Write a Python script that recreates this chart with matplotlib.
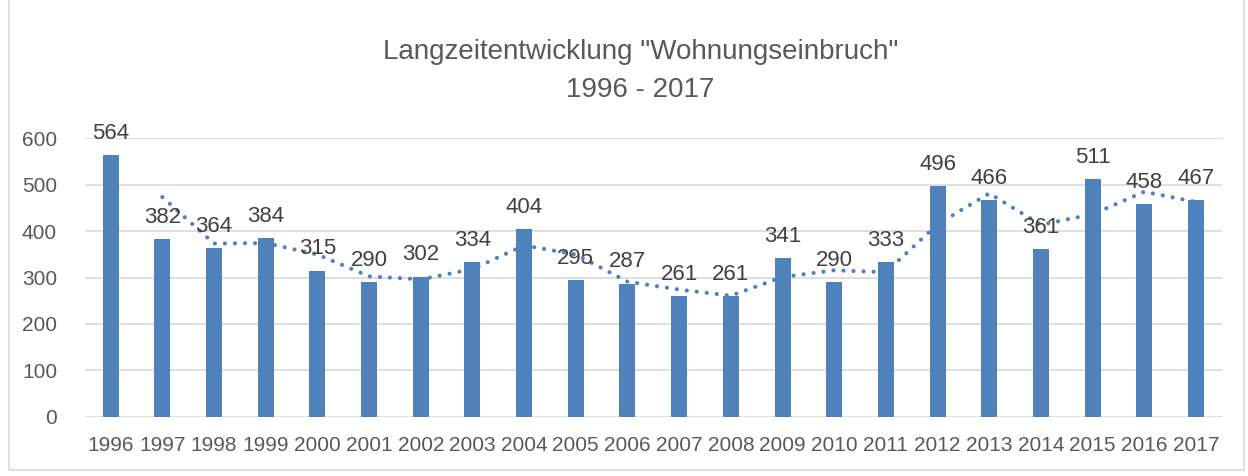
import matplotlib
matplotlib.use("Agg")
import matplotlib.pyplot as plt
import numpy as np

plt.rcParams['font.family'] = ['Liberation Sans', 'DejaVu Sans']

jahre = [str(j) for j in range(1996, 2018)]
faelle = [564, 382, 364, 384, 315, 290, 302, 334, 404, 295, 287,
          261, 261, 341, 290, 333, 496, 466, 361, 511, 458, 467]

# gleitender Durchschnitt (2 Perioden), wie Excel-Trendlinie
werte = np.array(faelle, dtype=float)
gd = (werte[1:] + werte[:-1]) / 2

fig = plt.figure(figsize=(12.48, 4.76), dpi=100)
ax = fig.add_axes([0.068, 0.124, 0.911, 0.586])

x = np.arange(len(jahre))
ax.bar(x, faelle, width=0.31, color='#4F81BD', zorder=2)
ax.plot(x[1:], gd, linestyle=(0, (0.01, 2.4)), dash_capstyle='round',
        color='#4F81BD', linewidth=3, zorder=3)

for xi, v in zip(x, faelle):
    ax.annotate(str(v), (xi, v), xytext=(0, 8), textcoords='offset points',
                ha='center', va='bottom', fontsize=16, color='#404040',
                annotation_clip=False, zorder=4)

ax.set_xlim(-0.5, len(jahre) - 0.5)
ax.set_ylim(0, 600)
ax.set_yticks(range(0, 601, 100))
ax.set_xticks(x)
ax.set_xticklabels(jahre)
ax.tick_params(length=0, labelsize=15, colors='#595959')
ax.tick_params(axis='y', pad=20)
ax.tick_params(axis='x', pad=14)
ax.grid(axis='y', color='#D9D9D9', linewidth=1.2, zorder=0)
ax.set_axisbelow(True)
for s in ax.spines.values():
    s.set_visible(False)

fig.text(0.513, 0.85, 'Langzeitentwicklung "Wohnungseinbruch"\n1996 - 2017',
         ha='center', va='center', fontsize=20, color='#595959',
         linespacing=1.6)

# Rahmen des Diagrammbereichs
rahmen = plt.Rectangle((0.007, 0.012), 0.99, 1.2, transform=fig.transFigure,
                       fill=False, edgecolor='#D9D9D9', linewidth=1.2)
fig.add_artist(rahmen)

fig.savefig('out.png', dpi=100)
